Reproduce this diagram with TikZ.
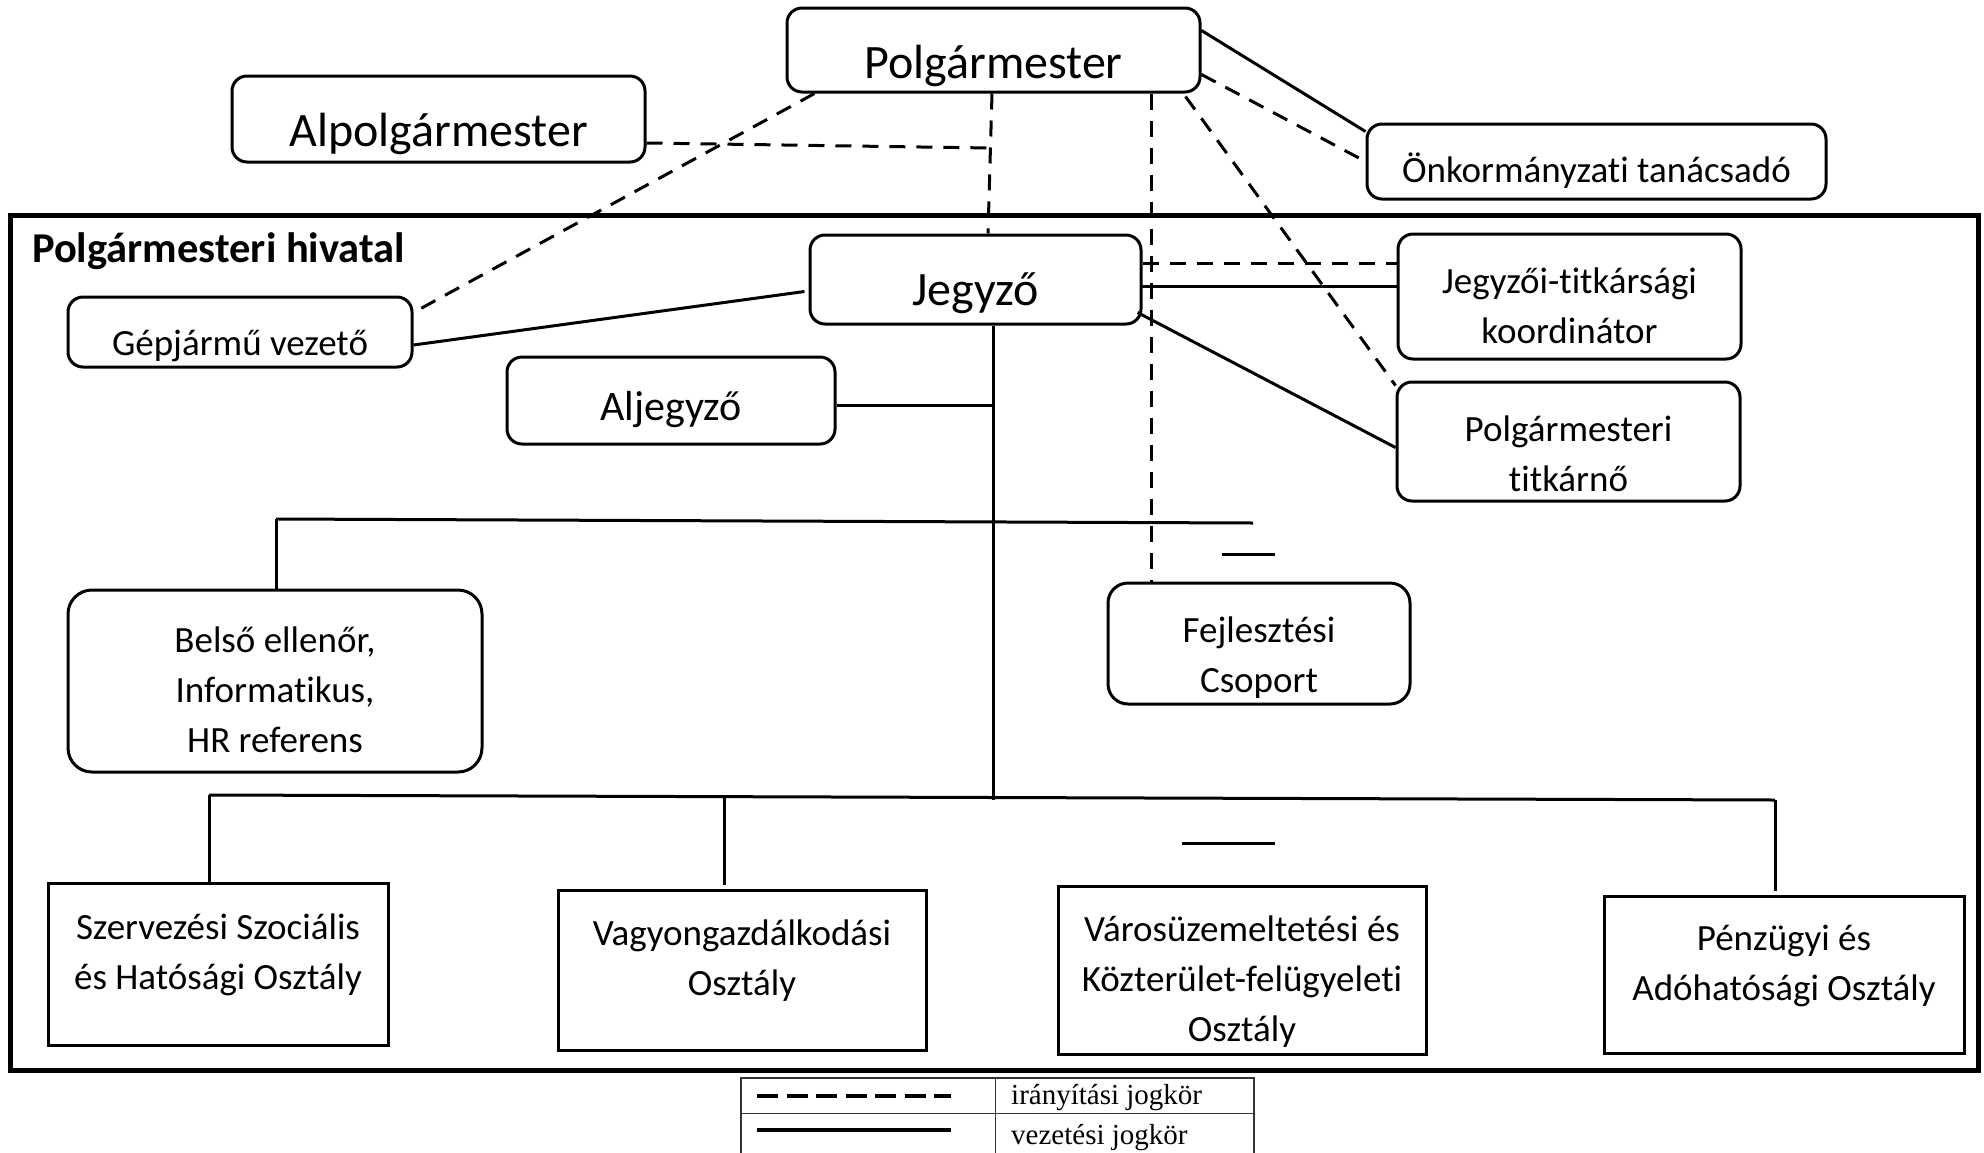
\documentclass[tikz,border=0pt]{standalone}
\usepackage{fontspec}
\setmainfont{Carlito}[Ligatures=NoCommon, RawFeature=-liga]
\newfontfamily\legfont{Liberation Serif}
\usetikzlibrary{calc}
\begin{document}
\begin{tikzpicture}[x=1pt,y=-1pt,
  rbox/.style={draw, line width=3pt, rounded corners=15pt, inner sep=0pt},
  sbox/.style={draw, line width=3pt, inner sep=0pt},
  big/.style={font=\fontsize{48}{58}\selectfont, inner sep=0pt},
  mid/.style={font=\fontsize{42}{50}\selectfont, inner sep=0pt},
  txt/.style={font=\fontsize{37}{50}\selectfont, align=center, inner sep=0pt},
  sol/.style={line width=3pt},
  dsh/.style={line width=3pt, dash pattern=on 16pt off 11pt},
  legtxt/.style={font=\legfont\fontsize{29}{34}\selectfont, anchor=base west, inner sep=0pt},
]
\useasboundingbox (0,0) rectangle (1984,1152);

% frame
\node[draw, line width=5pt, minimum width=1968pt, minimum height=855pt, inner sep=0pt] (hiv) at (994,642.5) {};
\node[font=\bfseries\fontsize{42.5}{50}\selectfont, anchor=base west, inner sep=0pt] (hivt) at (32,262) {Polgármesteri hivatal};

% boxes
\node[rbox, minimum width=413pt, minimum height=84pt] (pm) at (993.5,50) {};
\node[big] (pmt) at ([yshift=-16pt]pm.center) {Polgármester};
\node[rbox, minimum width=413pt, minimum height=86pt] (ap) at (438.5,119) {};
\node[big] (apt) at ([yshift=-15pt]ap.center) {Alpolgármester};
\node[rbox, minimum width=459pt, minimum height=75pt] (onk) at (1596.5,161.5) {};
\node[txt] (onkt) at ([yshift=-9pt]onk.center) {Önkormányzati tanácsadó};
\node[rbox, minimum width=331pt, minimum height=89pt] (jegy) at (975.5,279.5) {};
\node[big] (jegyt) at ([yshift=-14pt]jegy.center) {Jegyző};
\node[rbox, minimum width=344pt, minimum height=70pt] (gep) at (240,332) {};
\node[txt] (gept) at ([yshift=-14pt]gep.center) {Gépjármű vezető};
\node[rbox, minimum width=328pt, minimum height=87pt] (alj) at (671,400.5) {};
\node[mid] (aljt) at ([yshift=-9pt]alj.center) {Aljegyző};
\node[rbox, minimum width=343pt, minimum height=125pt] (jtk) at (1569.5,296.5) {};
\node[txt] (jtkt) at ([yshift=-9pt]jtk.center) {Jegyzői-titkársági\\koordinátor};
\node[rbox, minimum width=343pt, minimum height=119pt] (titk) at (1568.5,441.5) {};
\node[txt] (titkt) at ([yshift=-12pt]titk.center) {Polgármesteri\\titkárnő};
\node[rbox, rounded corners=24pt, minimum width=414pt, minimum height=182pt] (bel) at (275,681) {};
\node[txt] (belt) at ([yshift=-9pt]bel.center) {Belső ellenőr,\\Informatikus,\\HR referens};
\node[rbox, rounded corners=20pt, minimum width=302pt, minimum height=121pt] (fejl) at (1259,643.5) {};
\node[txt] (fejlt) at ([yshift=-14pt]fejl.center) {Fejlesztési\\Csoport};
\node[sbox, minimum width=340pt, minimum height=162pt] (szerv) at (218,964) {};
\node[txt] (szervt) at ([yshift=9pt]szerv.center) {Szervezési Szociális\\és Hatósági Osztály};
\node[sbox, minimum width=368pt, minimum height=160pt] (vagy) at (742,970) {};
\node[txt] (vagyt) at ([yshift=9pt]vagy.center) {Vagyongazdálkodási\\Osztály};
\node[sbox, minimum width=368pt, minimum height=168pt] (varos) at (1242,970) {};
\node[txt] (varost) at ([yshift=-12pt]varos.center) {Városüzemeltetési és\\Közterület-felügyeleti\\Osztály};
\node[sbox, minimum width=360pt, minimum height=157pt] (pen) at (1784,974.5) {};
\node[txt] (pent) at ([yshift=9pt]pen.center) {Pénzügyi és\\Adóhatósági Osztály};

% connectors from Polgármester
\coordinate (apj) at (990,148);
\draw[dsh] ([xshift=-1.5pt]pm.south) -- ([xshift=12.5pt]jegy.north);
\draw[dsh] ([yshift=-24pt]ap.east) -- (apj);
\draw[dsh] ([xshift=29pt]pm.south west) -- ([yshift=-17pt]gep.north east);
\draw[sol] ([yshift=-24pt]pm.north east) -- ([yshift=-9pt]onk.north west);
\draw[dsh] ([yshift=-68pt]pm.north east) -- (onk.west);
\coordinate (fx) at ([xshift=45pt]fejl.north west);
\draw[dsh] (fx |- pm.south) -- (fx);
\draw[dsh] ([xshift=-16pt,yshift=-3pt]pm.south east) -- ([yshift=-5pt]titk.north west);

% connectors from Jegyző
\coordinate (j1) at ([yshift=16pt]jegy.east);
\draw[dsh] (j1) -- (j1 -| jtk.west);
\coordinate (j2) at ([yshift=-7pt]jegy.east);
\draw[sol] ([xshift=-2pt]j2) -- (j2 -| jtk.west);
\draw[sol] ([xshift=-5pt,yshift=13pt]jegy.south east) -- ([yshift=-6pt]titk.west);
\draw[sol] ([xshift=-4pt,yshift=-12pt]jegy.west) -- ([yshift=-13pt]gep.east);
\coordinate (tr) at ([xshift=17.5pt]jegy.south);
\coordinate (trb) at (993,800);
\draw[sol] (tr) -- (trb);
\coordinate (a1) at ([yshift=-5pt]alj.east);
\draw[sol] (a1) -- (a1 -| tr);

% upper bus
\coordinate (hL) at (276,519);
\coordinate (hR) at (1253,523);
\draw[sol] (hL) -- (hR);
\draw[sol] (hL) -- (hL |- bel.north);
\coordinate (s1a) at (1222,554);
\coordinate (s1b) at (1275,554);
\draw[sol] (s1a) -- (s1b);

% lower bus
\coordinate (lL) at (209,795);
\coordinate (lR) at (1775,800);
\coordinate (lM) at (724,797);
\draw[sol] (lL) -- (lR);
\draw[sol] (lL) -- (lL |- szerv.north);
\coordinate (vm) at ([xshift=-18pt,yshift=4pt]vagy.north);
\draw[sol] (lM) -- (vm);
\coordinate (pm2) at ([xshift=-9pt,yshift=4pt]pen.north);
\draw[sol] (lR) -- (pm2);
\coordinate (s2a) at (1182,843);
\coordinate (s2b) at (1275,843);
\draw[sol] (s2a) -- (s2b);

% legend
\node[draw=black!80, line width=1.5pt, minimum width=513pt, minimum height=80pt, inner sep=0pt] (leg) at (997.5,1118) {};
\draw[draw=black!80, line width=1.5pt] ([yshift=-36pt]leg.north west) -- ([yshift=-36pt]leg.north east);
\draw[draw=black!80, line width=1.5pt] ([xshift=255pt]leg.north west) -- ([xshift=255pt]leg.south west);
\coordinate (ld1) at (757,1096);
\coordinate (ld2) at (951,1096);
\draw[line width=3.5pt, dash pattern=on 21pt off 8.5pt] (ld1) -- (ld2);
\coordinate (ls1) at (757,1130);
\coordinate (ls2) at (951,1130);
\draw[line width=3.5pt] (ls1) -- (ls2);
\node[legtxt] (lt1) at (1011,1104) {irányítási jogkör};
\node[legtxt] (lt2) at (1011,1144) {vezetési jogkör};
\end{tikzpicture}
\end{document}
